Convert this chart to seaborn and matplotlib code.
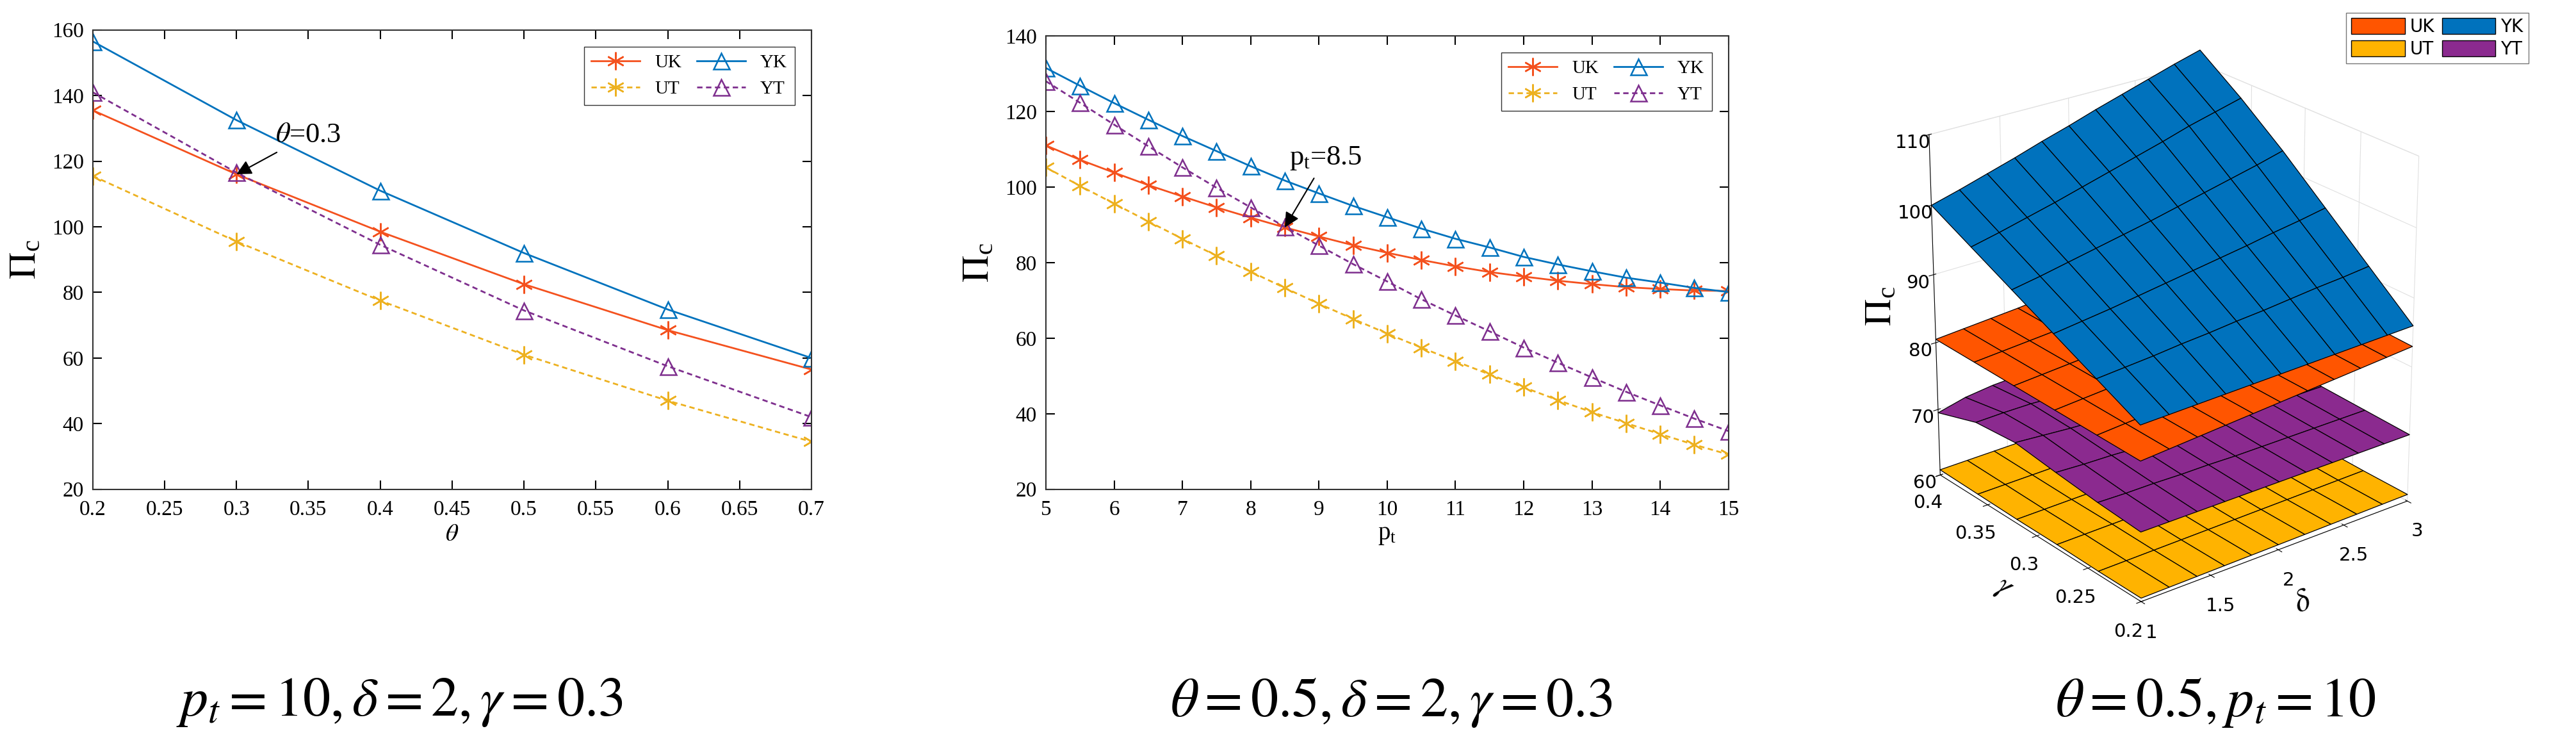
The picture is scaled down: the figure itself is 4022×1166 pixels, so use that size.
import numpy as np
import pandas as pd
import matplotlib
matplotlib.use("Agg")
import matplotlib.pyplot as plt
import seaborn as sns
from matplotlib.patches import Patch

# ---------------- data ----------------
theta = [0.2, 0.3, 0.4, 0.5, 0.6, 0.7]
th_UK = [135.5, 116.0, 98.5, 82.5, 68.5, 56.5]
th_YK = [156.5, 132.5, 111.0, 92.0, 74.8, 60.0]
th_UT = [115.5, 95.5, 77.5, 61.0, 47.0, 34.5]
th_YT = [141.0, 116.5, 94.5, 74.5, 57.5, 42.0]

pt = [5, 5.5, 6, 6.5, 7, 7.5, 8, 8.5, 9, 9.5, 10, 10.5, 11, 11.5, 12, 12.5, 13, 13.5, 14, 14.5, 15]
pt_YK = [131.5, 126.8, 122.2, 117.8, 113.5, 109.5, 105.5, 101.7, 98.3, 95.0, 92.0, 89.0, 86.3, 84.0, 81.5, 79.5, 77.7, 76.0, 74.7, 73.3, 72.2]
pt_UK = [111.0, 107.2, 103.8, 100.5, 97.5, 94.6, 91.9, 89.3, 86.9, 84.6, 82.6, 80.7, 79.0, 77.5, 76.3, 75.2, 74.3, 73.5, 73.0, 72.6, 72.5]
pt_YT = [128.0, 122.3, 116.5, 110.8, 105.2, 99.8, 94.6, 89.5, 84.5, 79.6, 75.0, 70.3, 66.0, 61.8, 57.5, 53.5, 49.6, 45.8, 42.2, 38.7, 35.4]
pt_UT = [105.2, 100.3, 95.6, 90.9, 86.3, 81.8, 77.6, 73.3, 69.1, 65.1, 61.2, 57.5, 53.9, 50.4, 47.0, 43.6, 40.4, 37.5, 34.6, 31.8, 29.2]

delta = [1.0, 1.2, 1.4, 1.6, 1.8, 2.0, 2.2, 2.4, 2.6, 2.8, 3.0]
gamma = [0.2, 0.24, 0.28, 0.32, 0.36, 0.4]
# rows: gamma, cols: delta
S_YK = [[85.0, 85.1, 85.2, 85.3, 85.4, 85.5, 85.6, 85.7, 85.8, 85.9, 86.0],
        [88.0, 88.3, 88.6, 89.0, 89.3, 89.7, 90.0, 90.4, 90.8, 91.1, 91.5],
        [91.0, 91.5, 92.0, 92.6, 93.2, 93.8, 94.4, 95.0, 95.7, 96.3, 97.0],
        [94.0, 94.7, 95.5, 96.3, 97.1, 97.9, 98.8, 99.7, 100.6, 101.5, 102.5],
        [97.0, 97.9, 98.9, 99.9, 101.0, 102.1, 103.2, 104.3, 105.5, 106.5, 107.5],
        [100.0, 101.1, 102.3, 103.5, 104.8, 106.0, 107.3, 108.5, 109.7, 110.9, 112.0]]
S_UK = [[80.0, 80.3, 80.6, 80.9, 81.2, 81.5, 81.8, 82.1, 82.4, 82.7, 83.0],
        [80.1, 80.4, 80.7, 81.0, 81.3, 81.6, 81.9, 82.3, 82.6, 82.9, 83.2],
        [80.2, 80.5, 80.8, 81.1, 81.4, 81.8, 82.1, 82.5, 82.8, 83.1, 83.4],
        [80.3, 80.6, 80.9, 81.2, 81.6, 81.9, 82.3, 82.7, 83.0, 83.3, 83.6],
        [80.4, 80.7, 81.0, 81.3, 81.7, 82.0, 82.4, 82.8, 83.2, 83.5, 83.8],
        [80.5, 80.8, 81.1, 81.4, 81.8, 82.2, 82.6, 83.0, 83.3, 83.7, 84.0]]
S_YT = [[70.0, 70.0, 70.0, 70.0, 70.0, 70.0, 70.0, 70.0, 70.0, 70.0, 70.0],
        [70.5, 70.4, 70.4, 70.3, 70.3, 70.2, 70.2, 70.2, 70.2, 70.2, 70.2],
        [71.2, 71.0, 70.9, 70.7, 70.6, 70.5, 70.5, 70.4, 70.4, 70.4, 70.4],
        [72.0, 71.7, 71.4, 71.2, 71.0, 70.9, 70.8, 70.7, 70.7, 70.6, 70.6],
        [71.5, 71.6, 71.6, 71.4, 71.3, 71.1, 71.0, 70.9, 70.9, 70.8, 70.8],
        [69.5, 70.5, 71.0, 71.2, 71.2, 71.1, 71.1, 71.0, 71.0, 71.0, 71.0]]
S_UT = [[60.5, 60.55, 60.6, 60.65, 60.7, 60.75, 60.8, 60.85, 60.9, 60.95, 61.0],
        [60.5, 60.55, 60.6, 60.65, 60.7, 60.75, 60.8, 60.85, 60.9, 60.95, 61.0],
        [60.6, 60.65, 60.7, 60.75, 60.8, 60.85, 60.9, 60.95, 61.0, 61.05, 61.1],
        [60.6, 60.65, 60.7, 60.75, 60.8, 60.85, 60.9, 60.95, 61.0, 61.05, 61.1],
        [60.7, 60.75, 60.8, 60.85, 60.9, 60.95, 61.0, 61.05, 61.1, 61.15, 61.2],
        [60.8, 60.85, 60.9, 60.95, 61.0, 61.05, 61.1, 61.15, 61.2, 61.25, 61.3]]

C_UK = "#F4511E"; C_YK = "#0072BD"; C_UT = "#EDB120"; C_YT = "#7E2F8E"
C_UKs = "#FF5500"; C_UTs = "#FFB300"; C_YTs = "#8B2A8F"

serif = "Liberation Serif"
plt.rcParams["font.family"] = serif
plt.rcParams["mathtext.fontset"] = "stix"

fig = plt.figure(figsize=(40.22, 11.66), dpi=100)

ASTER = (6, 2, 0)
styles = [("UK", C_UK, "-", ASTER), ("YK", C_YK, "-", "^"),
          ("UT", C_UT, (0, (3, 2)), ASTER), ("YT", C_YT, (0, (3, 2)), "^")]

def line_panel(ax, x, series, xlim, ylim, xticks, yticks, xlabel):
    for (name, col, ls, mk), y in zip(styles, series):
        df = pd.DataFrame({"x": x, "y": y})
        sns.lineplot(data=df, x="x", y="y", ax=ax, color=col, linestyle=ls,
                     lw=2.0, marker=mk, markersize=18 if mk == "^" else 20,
                     markerfacecolor="none", markeredgecolor=col,
                     markeredgewidth=1.8, label=name)
    ax.set_xlim(*xlim); ax.set_ylim(*ylim)
    ax.set_xticks(xticks); ax.set_yticks(yticks)
    ax.tick_params(direction="in", top=True, right=True, labelsize=24, length=10, width=1.5)
    ax.tick_params(axis="x", pad=12)
    ax.tick_params(axis="y", pad=10)
    for s in ax.spines.values():
        s.set_linewidth(1.5); s.set_color("#333333")
    ax.set_ylabel(r"$\Pi_\mathregular{c}$", fontsize=42, labelpad=10)
    ax.set_xlabel(xlabel, fontsize=28)
    h, l = ax.get_legend_handles_labels()
    order = [0, 2, 1, 3]
    ax.legend([h[i] for i in order], [l[i] for i in order], ncol=2, loc="upper right",
              fontsize=21, frameon=True, fancybox=False, edgecolor="black",
              handlelength=2.6, columnspacing=0.8, borderaxespad=0.9)

ax1 = fig.add_axes([0.036, 0.345, 0.279, 0.615])
line_panel(ax1, theta, [th_UK, th_YK, th_UT, th_YT], (0.2, 0.7), (20, 160),
           np.arange(0.2, 0.7001, 0.05), np.arange(20, 161, 20), r"$\theta$")
ax1.set_xticklabels(["0.2", "0.25", "0.3", "0.35", "0.4", "0.45", "0.5", "0.55", "0.6", "0.65", "0.7"])
ax1.annotate(r"$\theta$=0.3", xy=(0.3, th_UK[1]), xytext=(0.35, 124), fontsize=32,
             ha="center", va="bottom",
             arrowprops=dict(arrowstyle="-|>", color="black", lw=1.5, mutation_scale=35,
                             shrinkA=6, shrinkB=0))

ax2 = fig.add_axes([0.406, 0.345, 0.265, 0.607])
line_panel(ax2, pt, [pt_UK, pt_YK, pt_UT, pt_YT], (5, 15), (20, 140),
           np.arange(5, 16, 1), np.arange(20, 141, 20), r"$\mathregular{p_t}$")
ax2.annotate(r"$\mathregular{p_t}$=8.5", xy=(8.5, pt_UK[7]), xytext=(9.1, 104), fontsize=32,
             ha="center", va="bottom",
             arrowprops=dict(arrowstyle="-|>", color="black", lw=1.5, mutation_scale=35,
                             shrinkA=6, shrinkB=0))

# 3D panel
ax3 = fig.add_axes([0.725, 0.14, 0.23, 0.84], projection="3d")
D, G = np.meshgrid(delta, gamma)
for Z, col in [(S_UT, C_UTs), (S_YT, C_YTs), (S_UK, C_UKs), (S_YK, C_YK)]:
    ax3.plot_surface(D, G, np.array(Z), color=col, edgecolor="black", linewidth=0.9,
                     shade=False, antialiased=True)
ax3.set_xlim(1, 3); ax3.set_ylim(0.2, 0.4); ax3.set_zlim(60, 110)
ax3.set_xticks([1, 1.5, 2, 2.5, 3]); ax3.set_xticklabels(["1", "1.5", "2", "2.5", "3"])
ax3.set_yticks([0.2, 0.25, 0.3, 0.35, 0.4]); ax3.set_yticklabels(["0.2", "0.25", "0.3", "0.35", "0.4"])
ax3.set_zticks([60, 70, 80, 90, 100, 110])
ax3.view_init(elev=24, azim=-128)
for a in (ax3.xaxis, ax3.yaxis, ax3.zaxis):
    a.pane.fill = False
    a.pane.set_edgecolor("#dddddd")
    a._axinfo["grid"]["color"] = "#e0e0e0"
ax3.tick_params(labelsize=21)
ax3.tick_params(axis="x", pad=8)
ax3.tick_params(axis="y", pad=8)
for t in ax3.get_xticklabels() + ax3.get_yticklabels() + ax3.get_zticklabels():
    t.set_fontfamily("DejaVu Sans")
ax3.set_xlabel(r"$\delta$", fontsize=36, labelpad=18)
ax3.set_ylabel(r"$\gamma$", fontsize=36, labelpad=20)
ax3.zaxis.set_rotate_label(False)
ax3.set_zlabel(r"$\Pi_\mathregular{c}$", fontsize=42, labelpad=18, rotation=90)
ax3.set_box_aspect((1, 1, 1.1))
fig.legend(handles=[Patch(facecolor=C_UKs, edgecolor="black", label="UK"),
                    Patch(facecolor=C_UTs, edgecolor="black", label="UT"),
                    Patch(facecolor=C_YK, edgecolor="black", label="YK"),
                    Patch(facecolor=C_YTs, edgecolor="black", label="YT")],
           ncol=2, loc="upper right", bbox_to_anchor=(0.985, 0.995),
           prop={"family": "DejaVu Sans", "size": 20}, fancybox=False,
           edgecolor="#555555", handlelength=3.0, handleheight=1.0,
           columnspacing=0.4, handletextpad=0.3, labelspacing=0.25, borderpad=0.3)

fig.text(0.155, 0.06, r"$p_t=10,\delta=2,\gamma=0.3$", fontsize=62, ha="center", va="center")
fig.text(0.54, 0.06, r"$\theta=0.5,\delta=2,\gamma=0.3$", fontsize=62, ha="center", va="center")
fig.text(0.86, 0.06, r"$\theta=0.5,p_t=10$", fontsize=62, ha="center", va="center")

fig.savefig("out.png", dpi=100, facecolor="white")
